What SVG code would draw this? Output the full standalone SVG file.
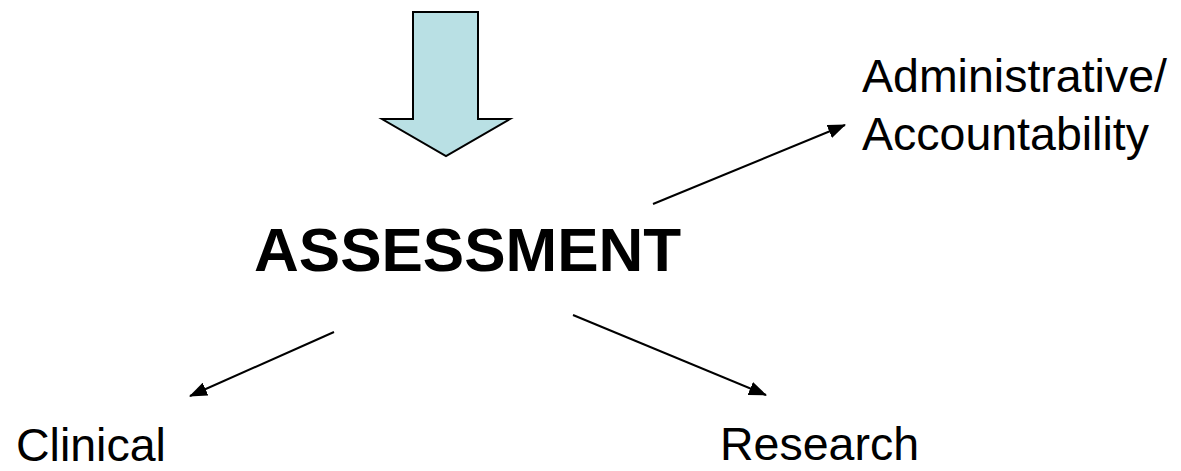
<svg xmlns="http://www.w3.org/2000/svg" width="1181" height="471" viewBox="0 0 1181 471">
<style>
.lbl{font-family:"Liberation Sans",Arial,sans-serif;font-size:46.5px;fill:#000}
.title{font-family:"Liberation Sans",Arial,sans-serif;font-size:62px;font-weight:bold;fill:#000}
.conn{stroke:#000;stroke-width:2;fill:none;marker-end:url(#ah)}
</style>
<defs>
<marker id="ah" viewBox="0 0 18 14" refX="17" refY="7" markerWidth="18" markerHeight="14" markerUnits="userSpaceOnUse" orient="auto">
<path d="M0,0 L18,7 L0,14 Z" fill="#000"/>
</marker>
</defs>
<rect width="1181" height="471" fill="#fff"/>
<g id="big-arrow">
<path d="M413,12 L478,12 L478,119 L510,119 L446,156 L382,119 L413,119 Z" fill="#b9e0e4" stroke="#000" stroke-width="2"/>
</g>
<g id="connectors">
<line class="conn" x1="653" y1="204" x2="845" y2="125"/>
<line class="conn" x1="334" y1="332" x2="190" y2="396"/>
<line class="conn" x1="573" y1="315" x2="766" y2="395"/>
</g>
<g id="assessment"><text class="title" x="254" y="271">ASSESSMENT</text></g>
<g id="administrative"><text class="lbl" x="862" y="92">Administrative/</text><text class="lbl" x="862" y="150">Accountability</text></g>
<g id="clinical"><text class="lbl" x="16" y="461">Clinical</text></g>
<g id="research"><text class="lbl" x="720" y="460">Research</text></g>
</svg>
